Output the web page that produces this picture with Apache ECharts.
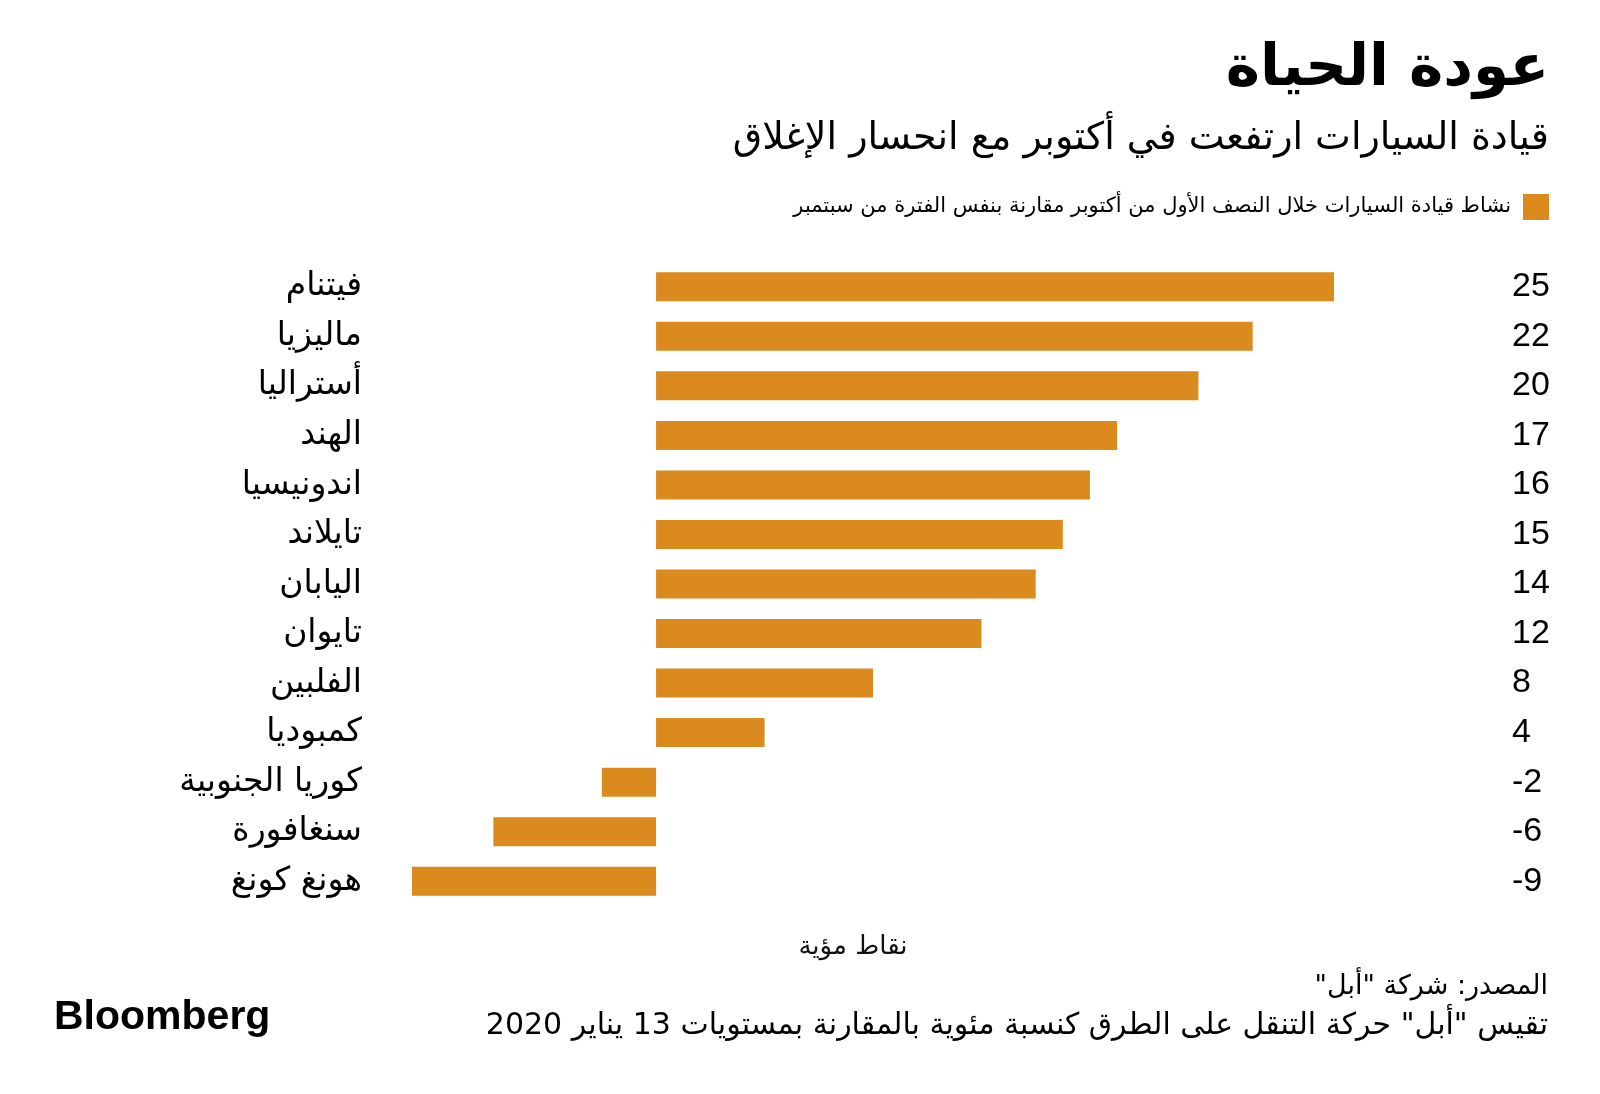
<!DOCTYPE html>
<html><head><meta charset="utf-8">
<script src="https://cdn.jsdelivr.net/npm/echarts@6/dist/echarts.min.js"></script>
<style>html,body{margin:0;padding:0;background:#fff}#c{width:1600px;height:1094px}</style>
</head><body><div id="c"></div>
<script>
const categories = ['فيتنام','ماليزيا','أستراليا','الهند','اندونيسيا','تايلاند','اليابان','تايوان','الفلبين','كمبوديا','كوريا الجنوبية','سنغافورة','هونغ كونغ'];
const values = [25, 22, 20, 17, 16, 15, 14, 12, 8, 4, -2, -6, -9];
const titleText = 'عودة الحياة';
const subtitleText = 'قيادة السيارات ارتفعت في أكتوبر مع انحسار الإغلاق';
const legendText = 'نشاط قيادة السيارات خلال النصف الأول من أكتوبر مقارنة بنفس الفترة من سبتمبر';
const axisName = 'نقاط مؤية';
const sourceText = 'المصدر: شركة "أبل"';
const noteText = 'تقيس "أبل" حركة التنقل على الطرق كنسبة مئوية بالمقارنة بمستويات 13 يناير 2020';

const rtl = s => '\u202B' + s + '\u202C';
const FONT = '"DejaVu Sans", "Noto Sans", sans-serif';
const NUMFONT = '"Liberation Sans", Arial, sans-serif';
const BAR = '#DB8A1E';
const chart = echarts.init(document.getElementById('c'));
chart.setOption({
  backgroundColor: '#fff',
  animation: false,
  textStyle: { fontFamily: FONT },
  title: [
    { text: rtl(titleText), right: 46, top: 36, textStyle: { fontSize: 58, fontWeight: 'bold', color: '#000', fontFamily: FONT } },
    { text: rtl(subtitleText), right: 46, top: 115, textStyle: { fontSize: 38, fontWeight: 'normal', color: '#000', fontFamily: FONT } },
    { text: rtl(axisName), left: 848, textAlign: 'center', top: 929, textStyle: { fontSize: 26, fontWeight: 'normal', color: '#111', fontFamily: FONT } },
    { text: rtl(sourceText), right: 47, top: 968, textStyle: { fontSize: 27, fontWeight: 'normal', color: '#000', fontFamily: FONT } },
    { text: rtl(noteText), right: 47, top: 1006, textStyle: { fontSize: 30, fontWeight: 'normal', color: '#000', fontFamily: FONT } },
    { text: 'Bloomberg', left: 49, top: 992, textStyle: { fontSize: 41, fontWeight: 'bold', color: '#000', fontFamily: NUMFONT } }
  ],
  legend: {
    right: 46, top: 189, itemWidth: 26, itemHeight: 26, itemGap: 10,
    align: 'right', icon: 'rect',
    textStyle: { fontSize: 21, color: '#000', fontFamily: FONT, padding: [0, 7, 0, 0] },
    data: [legendText],
    formatter: n => rtl(n)
  },
  grid: { left: 412, right: 266, top: 262, height: 644 },
  xAxis: {
    type: 'value', min: -9, max: 25,
    axisLine: { show: false }, axisTick: { show: false }, axisLabel: { show: false }, splitLine: { show: false }
  },
  yAxis: [
    {
      type: 'category', data: categories, inverse: true,
      axisLine: { show: false }, axisTick: { show: false },
      axisLabel: { margin: 50, fontSize: 33, color: '#000', fontFamily: FONT, padding: [10, 0, 0, 0], formatter: v => rtl(v) }
    },
    {
      type: 'category', data: values.map(String), inverse: true, position: 'right',
      axisLine: { show: false }, axisTick: { show: false },
      axisLabel: { margin: 178, align: 'left', fontSize: 34, color: '#000', fontFamily: NUMFONT, padding: [6, 0, 0, 0] }
    }
  ],
  series: [{
    name: legendText, type: 'bar', data: values, barWidth: 29,
    itemStyle: { color: BAR }
  }]
});
</script></body></html>
